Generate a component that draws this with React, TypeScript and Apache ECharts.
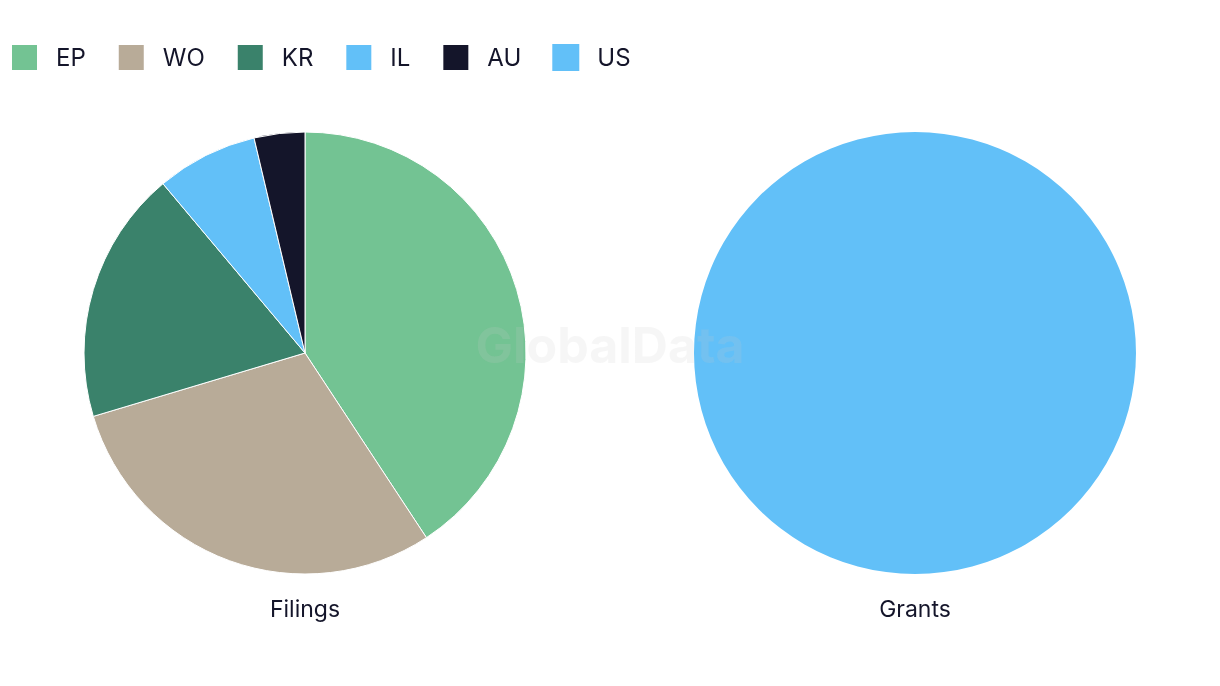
import React, { useEffect, useRef } from "react";
import * as echarts from "echarts";

const categories = ["EP", "WO", "KR", "IL", "AU", "US"];
const colors = ["#73c393", "#b8ab98", "#3a826b", "#62c0f8", "#14152a", "#62c0f8"];
const filingsValues = [11, 8, 5, 2, 1];
const grantsCategories = ["US"];
const grantsValues = [1];
const pieTitles = ["Filings", "Grants"];

export default function App() {
  const ref = useRef<HTMLDivElement>(null);
  useEffect(() => {
    const chart = echarts.init(ref.current!, undefined, { renderer: "svg" });
    const colorOf = (n: string) => colors[categories.indexOf(n)];
    chart.setOption({
      animation: false,
      textStyle: { fontFamily: "Inter" },
      legend: {
        data: categories,
        left: 10,
        top: 43,
        padding: 0,
        itemWidth: 27,
        itemHeight: 27,
        itemGap: 31,
        icon: "rect",
        textStyle: { fontSize: 24, color: "#14152a", padding: [0, 0, 0, 13], fontFamily: "Inter" },
      },
      series: [
        {
          type: "pie",
          center: [305, 353],
          radius: [0, 221],
          startAngle: 90,
          clockwise: true,
          label: { show: false },
          labelLine: { show: false },
          itemStyle: { borderColor: "#ffffff", borderWidth: 1 },
          data: filingsValues.map((v, i) => ({ name: categories[i], value: v, itemStyle: { color: colorOf(categories[i]) } })),
        },
        {
          type: "pie",
          center: [915, 353],
          radius: [0, 221],
          startAngle: 90,
          label: { show: false },
          labelLine: { show: false },
          itemStyle: { borderColor: "#ffffff", borderWidth: 0 },
          data: grantsValues.map((v, i) => ({ name: grantsCategories[i], value: v, itemStyle: { color: colorOf(grantsCategories[i]) } })),
        },
      ],
      graphic: [
        {
          type: "text",
          x: 305,
          y: 609,
          style: { text: pieTitles[0], fontSize: 23, fill: "#14152a", fontFamily: "Inter", align: "center", verticalAlign: "middle" },
        },
        {
          type: "text",
          x: 915,
          y: 609,
          style: { text: pieTitles[1], fontSize: 23, fill: "#14152a", fontFamily: "Inter", align: "center", verticalAlign: "middle" },
        },
        {
          type: "text",
          x: 610,
          y: 345,
          z: 100,
          style: { text: "GlobalData", fontSize: 50, fontWeight: "bold", fill: "rgba(200,200,200,0.17)", fontFamily: "Inter", align: "center", verticalAlign: "middle" },
        },
      ],
    });
    return () => chart.dispose();
  }, []);
  return <div ref={ref} style={{ position: "fixed", left: 0, top: 0, width: 1220, height: 686 }} />;
}
